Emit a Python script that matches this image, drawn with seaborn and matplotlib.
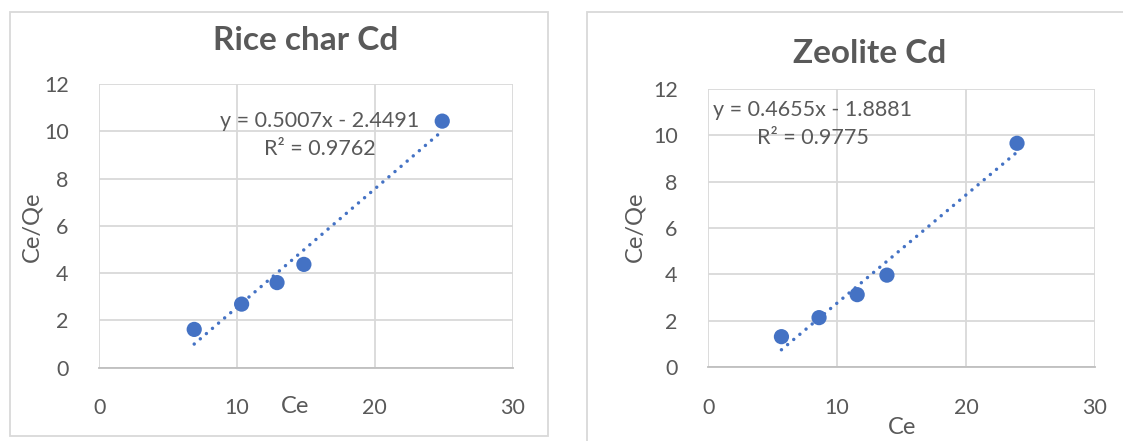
import numpy as np
import matplotlib
matplotlib.use('Agg')
import matplotlib.pyplot as plt
import seaborn as sns
from matplotlib.patches import Rectangle

sns.set_style('white')
plt.rcParams['font.family'] = ['Lato', 'DejaVu Sans']

# Rice char Cd
rice_ce = [6.89, 10.33, 12.9, 14.85, 24.89]
rice_ratio = [1.62, 2.69, 3.6, 4.37, 10.43]
rice_slope, rice_icpt, rice_r2 = 0.5007, -2.4491, 0.9762

# Zeolite Cd
zeo_ce = [5.68, 8.6, 11.56, 13.87, 23.97]
zeo_ratio = [1.32, 2.14, 3.13, 3.97, 9.65]
zeo_slope, zeo_icpt, zeo_r2 = 0.4655, -1.8881, 0.9775

x_ticks = [0, 10, 20, 30]
y_ticks = [0, 2, 4, 6, 8, 10, 12]

blue = '#4472C4'
text_col = '#595959'
grid_col = '#D9D9D9'
W, H = 1123, 441

fig = plt.figure(figsize=(W / 100, H / 100), dpi=100)

# chart area borders (pixel boxes converted to figure fractions)
fig.patches.append(Rectangle((10 / W, 1 - 436 / H), 538.3 / W, 424.3 / H,
                             transform=fig.transFigure, fill=False,
                             edgecolor=grid_col, linewidth=1.3))
fig.patches.append(Rectangle((586.7 / W, -0.1), 0.6, 1.1 - 11.7 / H,
                             transform=fig.transFigure, fill=False,
                             edgecolor=grid_col, linewidth=1.3))

ax1 = fig.add_axes([0.0884, 0.1662, 0.3681, 0.6433])
ax2 = fig.add_axes([0.6307, 0.1671, 0.3441, 0.6317])

panels = [
    (ax1, rice_ce, rice_ratio, rice_slope, rice_icpt, rice_r2, 'Rice char Cd',
     (0.5, 1.152), (0.473, -0.137), (-0.164, 0.497), (15.98, 9.84)),
    (ax2, zeo_ce, zeo_ratio, zeo_slope, zeo_icpt, zeo_r2, 'Zeolite Cd',
     (0.418, 1.125), (0.501, -0.215), (-0.189, 0.504), (8.09, 10.48)),
]

for (ax, xs, ys, slope, icpt, r2, title, title_pos, xl_pos, yl_pos,
     eq_pos) in panels:
    # linear trendline drawn from the displayed equation
    fit_x = np.array([min(xs), max(xs)])
    fit_y = slope * fit_x + icpt
    ax.plot(fit_x, fit_y, color=blue, linewidth=2.5,
            linestyle=(0, (0.01, 2.3)), dash_capstyle='round', zorder=2)
    sns.scatterplot(x=xs, y=ys, ax=ax, color=blue, s=120, edgecolor='none',
                    zorder=3)

    ax.set_xlim(0, 30)
    ax.set_ylim(0, 12)
    ax.set_xticks(x_ticks)
    ax.set_yticks(y_ticks)
    ax.grid(True, color=grid_col, linewidth=1.3)
    ax.set_axisbelow(True)
    for side in ['top', 'right', 'left']:
        ax.spines[side].set_visible(False)
    ax.spines['bottom'].set_color('#BFBFBF')
    ax.spines['bottom'].set_linewidth(1.3)
    ax.tick_params(axis='both', length=0, labelsize=15.5,
                   labelcolor=text_col)
    ax.tick_params(axis='x', pad=22)
    ax.tick_params(axis='y', pad=22)

    ax.set_title(title, fontsize=24, fontweight='bold', color=text_col,
                 x=title_pos[0], y=title_pos[1], va='center', pad=0)
    ax.set_xlabel('Ce', fontsize=17, color=text_col)
    ax.xaxis.label.set_va('center')
    ax.xaxis.set_label_coords(*xl_pos)
    ax.set_ylabel('Ce/Qe', fontsize=17, color=text_col)
    ax.yaxis.label.set_va('center')
    ax.yaxis.set_label_coords(*yl_pos)

    sign = '-' if icpt < 0 else '+'
    eq = 'y = {:.4f}x {} {:.4f}\nR² = {:.4f}'.format(slope, sign, abs(icpt), r2)
    ax.text(eq_pos[0], eq_pos[1], eq, fontsize=15.5, color=text_col,
            ha='center', va='center', multialignment='center',
            linespacing=1.55, zorder=4)

fig.savefig('out.png', dpi=100)
